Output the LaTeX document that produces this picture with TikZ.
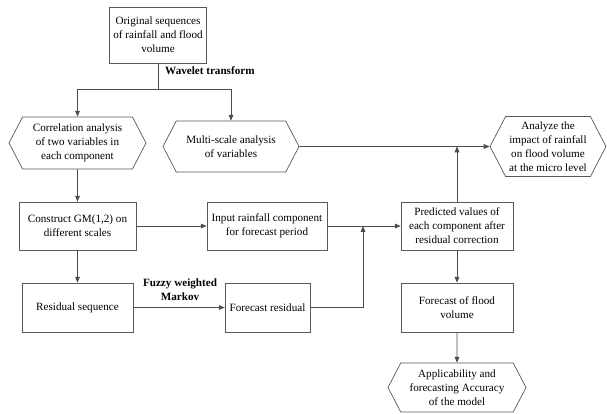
\documentclass[tikz,border=0pt]{standalone}
\usepackage{fontspec}
\setmainfont{Liberation Serif}
\usepackage{tikz}
\usetikzlibrary{arrows.meta, shapes.symbols, calc}
\tikzset{
  box/.style={draw=black!65, line width=0.6pt, align=center, inner sep=0pt,
      font=\fontsize{9.5}{12}\selectfont},
  hexbox/.style={box, shape=signal, signal to=west and east, signal pointer angle=125},
  lbl/.style={align=center, inner sep=0pt, font=\fontsize{9.5}{12}\selectfont\bfseries},
  arr/.style={draw=black!70, line width=0.6pt, -{Triangle[length=5pt, width=4pt]}},
  line/.style={draw=black!70, line width=0.6pt},
}

\begin{document}
\begin{tikzpicture}[x=0.03cm, y=-0.03cm]
  \useasboundingbox (0,0) rectangle (607,413);
  % Top
  \node[box, minimum width=2.91cm, minimum height=1.68cm] (orig) at (158,35) {Original sequences\\of rainfall and flood\\volume};
  \node[lbl, anchor=west] (wave) at (165,71) {Wavelet transform};
  \coordinate (split) at (158,89);
  % Second row
  \node[hexbox, minimum width=4.11cm, minimum height=1.56cm] (corr) at (77.5,143) {Correlation analysis\\of two variables in\\each component};
  \node[hexbox, minimum width=4.08cm, minimum height=1.53cm] (multi) at (231,146.5) {Multi-scale analysis\\of variables};
  \node[hexbox, minimum width=3.48cm, minimum height=1.8cm] (analyze) at (548,146.5) {Analyze the\\impact of rainfall\\on flood volume\\at the micro level};
  % Third row
  \node[box, minimum width=3.51cm, minimum height=1.44cm] (cons) at (77.5,226) {Construct GM(1,2) on\\different scales};
  \node[box, minimum width=3.6cm, minimum height=1.44cm] (input) at (267,226) {Input rainfall component\\for forecast period};
  \node[box, minimum width=3.36cm, minimum height=1.44cm] (pred) at (457,226) {Predicted values of\\each component after\\residual correction};
  \coordinate (join) at (363,226);
  % Fourth row
  \node[box, minimum width=3.33cm, minimum height=1.47cm] (resid) at (77.5,307.5) {Residual sequence};
  \node[box, minimum width=2.55cm, minimum height=1.47cm] (fres) at (267.5,307.5) {Forecast residual};
  \node[lbl] (fuzzy) at (180,289.5) {Fuzzy weighted\\Markov};
  \node[box, minimum width=3.36cm, minimum height=1.47cm] (flood) at (457,307.5) {Forecast of flood\\volume};
  % Bottom
  \node[hexbox, minimum width=4.14cm, minimum height=1.47cm] (appl) at (457,387.5) {Applicability and\\forecasting Accuracy\\of the model};
  % Connectors
  \draw[line] (orig) -- (split);
  \draw[arr] (split) -| (corr);
  \draw[arr] (split) -| (multi);
  \draw[arr] (multi) -- (analyze);
  \draw[arr] (pred) -- (pred |- multi);
  \draw[arr] (corr) -- (cons);
  \draw[arr] (cons) -- (input);
  \draw[arr] (input) -- (pred);
  \draw[arr] (cons) -- (resid);
  \draw[arr] (resid) -- (fres);
  \draw[arr] (fres) -| (join);
  \draw[arr] (pred) -- (flood);
  \draw[arr] (flood) -- (appl);
\end{tikzpicture}
\end{document}
